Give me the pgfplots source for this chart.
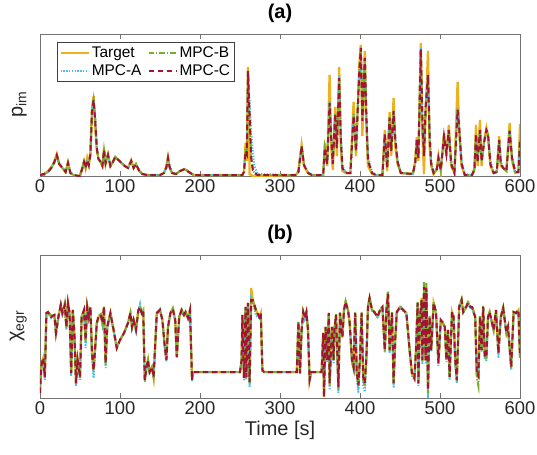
\documentclass[border=0pt]{standalone}
\usepackage{fontspec}
\setmainfont{Liberation Sans}
\usepackage{pgfplots}
\pgfplotsset{compat=1.18}
\usepackage{pgfplotstable}

\definecolor{cT}{RGB}{237,177,32}
\definecolor{cA}{RGB}{77,190,238}
\definecolor{cB}{RGB}{119,172,48}
\definecolor{cC}{RGB}{162,20,47}
\definecolor{axc}{RGB}{38,38,38}

\pgfplotstableread{
t tg a b c
0 2 1 1 1
5 2 2 1 2
10 5 4 4 4
15 10 9 9 9
18 15 13 14 14
21 22 20 21 21
24 12 13 12 12
28 8 8 8 8
32 4 5 4 4
35 14 12 13 13
38 3 4 3 3
42 1 1 1 1
48 0 0 0 0
50 1 0 0 0
53 9 7 8 8
55 15 13 14 14
57 8 9 8 8
59 18 15 16 16
61 11 12 11 11
63 24 20 22 22
65 68 60 64 64
67 80 76 76 76
69 50 60 58 55
71 25 30 28 28
73 18 18 17 17
75 15 15 15 15
78 10 11 10 10
80 27 24 26 26
82 12 14 13 13
85 22 20 21 21
88 10 11 10 10
91 14 13 14 14
94 19 18 19 19
98 16 16 16 16
102 13 13 13 13
106 10 10 10 10
110 8 8 8 8
114 16 14 15 15
117 8 9 8 8
120 12 11 12 12
124 5 6 5 5
128 2 2 2 2
134 1 1 1 1
150 1 1 1 1
155 3 3 3 3
158 10 8 9 9
160 19 17 18 18
162 9 10 9 9
165 3 4 3 3
170 2 2 2 2
175 5 5 5 5
181 7 7 7 7
186 4 4 4 4
192 1 1 1 1
253 1 1 1 1
255 5 4 4 4
257 33 20 28 25
258.5 15 22 20 22
260 109 100 104 105
262 2 75 60 60
264 1 45 20 18
266 0 25 8 6
268 0 10 3 3
272 0 2 1 1
320 1 1 1 1
323 5 4 4 4
327 31 28 30 30
330 10 12 11 11
335 3 4 3 3
340 1 1 1 1
354 1 1 1 1
356 33 25 28 28
359 10 15 12 12
362 101 75 72 73
364 30 40 38 38
366 6 15 12 12
369 69 60 62 62
371 20 30 28 28
374 109 100 98 98
376 30 40 38 38
378 5 10 8 8
382 3 4 3 3
388 3 3 3 3
392 74 60 62 60
395 20 28 25 25
399 110 100 102 102
401 131 128 128 128
403 40 60 55 55
406 125 118 118 118
408 50 60 58 58
410 10 20 15 15
415 2 4 3 3
420 1 1 1 1
428 1 1 1 1
431 46 40 42 42
434 5 12 8 8
437 64 58 60 58
439 20 28 25 25
442 78 65 66 65
444 30 40 38 38
447 12 15 14 14
451 3 3 3 3
466 2 2 2 2
469 15 12 13 13
471 39 35 36 36
473 15 20 18 18
476 133 128 126 127
478 40 60 55 55
480 2 30 20 20
482 60 70 68 68
485 125 101 100 101
487 30 45 40 40
489 10 15 12 12
492 2 4 3 3
496 8 6 6 6
498 20 18 18 18
501 5 8 6 6
505 43 38 40 40
508 20 24 22 22
511 51 45 46 46
514 10 15 12 12
518 3 4 3 3
522 94 66 68 66
524 45 50 48 48
527 10 15 12 12
531 1 2 1 1
540 1 1 1 1
543 8 6 6 6
545 51 40 42 42
547 10 18 14 14
550 56 45 46 46
552 10 18 15 15
555 35 32 33 33
558 48 45 46 46
560 40 42 42 42
563 10 15 12 12
567 3 4 3 3
571 5 4 4 4
574 40 35 36 36
576 10 15 12 12
579 8 8 8 8
583 5 5 5 5
587 53 45 46 45
590 15 20 18 18
594 3 5 4 4
598 4 4 4 4
600 52 35 36 36
}\toptab

\pgfplotstableread{
t tg a b c
0 20 5 8 5
2 35 33 34 35
4 40 38 39 40
6 21 18 20 21
8 85 84 85 85
10 86 85 86 86
14 81 80 82 81
18 83 83 84 83
20 65 62 64 65
23 81 80 82 81
26 93 92 94 93
28 85 84 85 85
31 93 92 95 93
33 71 68 70 71
35 95 94 96 95
37 85 84 85 85
39 25 22 24 25
41 88 87 88 88
43 65 62 64 65
45 15 12 14 15
47 38 35 37 38
50 21 18 20 21
52 81 80 82 81
55 88 87 88 88
57 58 50 56 58
59 91 90 92 91
61 81 80 82 81
63 91 90 92 91
65 45 40 44 45
67 28 20 26 28
69 51 48 50 51
71 75 74 75 75
73 81 80 82 81
76 83 83 84 83
78 75 74 75 75
80 91 90 92 91
82 35 30 33 35
84 71 70 71 71
88 85 84 85 85
92 68 67 68 68
96 50 50 50 50
100 58 58 58 58
105 65 65 65 65
110 75 75 75 75
113 85 84 85 85
115 71 70 71 71
117 78 77 78 78
120 68 67 68 68
123 88 87 89 88
125 91 94 92 91
127 85 84 85 85
129 88 87 88 88
131 18 16 17 18
133 30 28 30 30
135 38 36 38 38
137 26 24 26 26
140 31 30 31 31
142 21 20 21 21
146 85 84 85 85
150 88 87 89 88
153 78 77 78 78
156 51 50 51 51
158 38 36 38 38
160 71 70 71 71
163 85 84 85 85
166 89 88 90 89
169 78 77 78 78
171 41 40 41 41
174 81 80 82 81
177 88 87 88 88
180 83 82 83 83
182 86 85 86 86
185 80 79 80 80
187.5 88 87 88 88
190 18 17 18 18
191 26 26 26 26
250 26 26 26 26
252 38 37 38 38
253 83 82 83 83
255 20 18 20 20
257 91 90 91 91
258 21 18 20 21
260 95 94 95 95
262 16 11 14 16
264 110 100 98 98
266 98 96 97 98
270 88 82 86 88
274 81 80 81 81
276 85 84 85 85
278 28 27 28 28
280 26 26 26 26
321 26 26 26 26
323 76 75 76 76
325 25 24 25 25
327 68 67 68 68
329 86 85 86 86
331 80 79 80 80
333 86 85 86 86
335 68 67 68 68
337 18 17 18 18
339 26 26 26 26
352 26 26 26 26
354 65 64 65 65
355 1 3 2 1
357 71 70 71 71
359 38 36 38 38
361 85 84 85 85
362 15 8 12 15
365 71 70 71 71
367 38 34 37 38
368 68 67 68 68
370 83 82 84 83
372 35 30 33 35
373 11 5 8 11
375 85 84 86 85
378 61 60 61 61
380 88 87 89 88
382 96 94 97 96
385 88 87 88 88
387 76 75 76 76
390 38 34 37 38
392 31 28 30 31
394 85 84 86 85
396 25 20 23 25
398 13 5 10 13
400 41 38 40 41
402 85 84 86 85
404 21 12 18 21
406 15 6 12 15
408 41 38 40 41
410 91 90 92 91
412 100 99 101 100
415 88 87 88 88
418 86 85 86 86
422 81 80 82 81
425 88 87 88 88
428 91 90 92 91
431 48 45 47 48
433 88 87 88 88
435 106 102 107 104
437 48 45 47 48
440 85 84 86 85
442 15 10 13 15
444 58 56 58 58
446 86 85 86 86
450 91 90 92 91
454 88 87 88 88
458 85 84 85 85
462 48 46 48 48
465 25 22 24 25
468 20 18 19 20
470 48 46 48 48
472 95 94 96 95
473 15 12 14 15
475 81 80 82 81
477 100 96 98 98
478 38 34 37 38
480 105 100 116 111
482 38 34 37 38
483 108 100 115 110
485 10 0 5 8
487 81 80 82 81
489 48 46 48 48
492 95 94 96 95
495 86 85 86 86
498 35 32 34 35
501 78 77 78 78
503 76 75 76 76
506 71 70 71 71
508 38 36 38 38
510 68 67 68 68
512 21 18 20 21
515 86 85 86 86
517 81 80 82 81
519 38 36 38 38
521 18 15 17 18
524 91 90 92 91
527 98 97 99 98
529 86 85 86 86
532 90 89 91 90
535 95 94 96 95
538 91 90 92 91
540 91 90 92 91
544 81 80 82 81
546 25 22 20 25
548 22 20 12 22
550 81 80 82 81
552 48 46 48 48
554 91 90 92 91
556 41 38 40 41
558 41 38 40 41
560 81 80 82 81
562 86 85 86 86
567 68 67 68 68
570 88 87 88 88
573 45 40 44 45
576 81 80 82 81
579 90 89 91 90
583 65 64 65 65
585 71 70 71 71
589 31 28 30 31
592 86 85 86 86
595 85 84 85 85
598 88 87 88 88
600 41 40 41 41
}\bottab

\pgfplotsset{
  myaxis/.style={
    scale only axis, width=480bp,
    xmin=0, xmax=600, xtick={0,100,...,600},
    ytick=\empty,
    tick align=inside, major tick length=5bp,
    axis line style={black!55, line width=0.6bp},
    tick style={black!55, line width=0.6bp},
    tick label style={font=\fontsize{18.5}{18.5}\selectfont, text=axc},
    /pgf/number format/assume math mode=true,
    label style={font=\fontsize{20}{20}\selectfont, text=axc},
    ylabel style={at={(axis description cs:-0.02,0.5)}, anchor=south},
    title style={font=\bfseries\fontsize{20}{20}\selectfont, text=black, yshift=2bp},
    legend image code/.code={\draw[##1] (0bp,0bp) -- (28bp,0bp);},
  },
  tg/.style={cT, line width=2.3bp, solid},
  ma/.style={cA, line width=2bp, dash pattern=on 1.3bp off 1.5bp},
  mb/.style={cB, line width=2bp, dash pattern=on 5.5bp off 2bp on 1.3bp off 2bp},
  mc/.style={cC, line width=2bp, dash pattern=on 5.5bp off 3.5bp},
}

\begin{document}
\begin{tikzpicture}
\useasboundingbox (0,0) rectangle (537bp,-455bp);
\begin{axis}[myaxis, at={(40bp,-34bp)}, anchor=north west,
  height=142bp, ymin=0, ymax=142,
  title={(a)},
  ylabel={p\raisebox{-0.35ex}{\fontsize{14}{14}\selectfont im}},
  legend style={at={(0.035,0.944)}, anchor=north west, draw=black!75, fill=white,
    font=\fontsize{15.5}{15.5}\selectfont, inner sep=2.5bp, row sep=2bp,
    /tikz/every even column/.append style={column sep=4bp}},
  legend columns=2, transpose legend, legend cell align=left]
\addplot[tg] table[x=t,y=tg]{\toptab};
\addlegendentry{Target}
\addplot[ma] table[x=t,y=a]{\toptab};
\addlegendentry{MPC-A}
\addplot[mb] table[x=t,y=b]{\toptab};
\addlegendentry{MPC-B}
\addplot[mc] table[x=t,y=c]{\toptab};
\addlegendentry{MPC-C}
\end{axis}
\begin{axis}[myaxis, at={(40bp,-255bp)}, anchor=north west,
  height=143bp, ymin=0, ymax=143,
  title={(b)},
  ylabel={χ\raisebox{-0.35ex}{\fontsize{14}{14}\selectfont egr}},
  xlabel={Time [s]}]
\addplot[tg] table[x=t,y=tg]{\bottab};
\addplot[ma] table[x=t,y=a]{\bottab};
\addplot[mb] table[x=t,y=b]{\bottab};
\addplot[mc] table[x=t,y=c]{\bottab};
\end{axis}
\end{tikzpicture}
\end{document}
